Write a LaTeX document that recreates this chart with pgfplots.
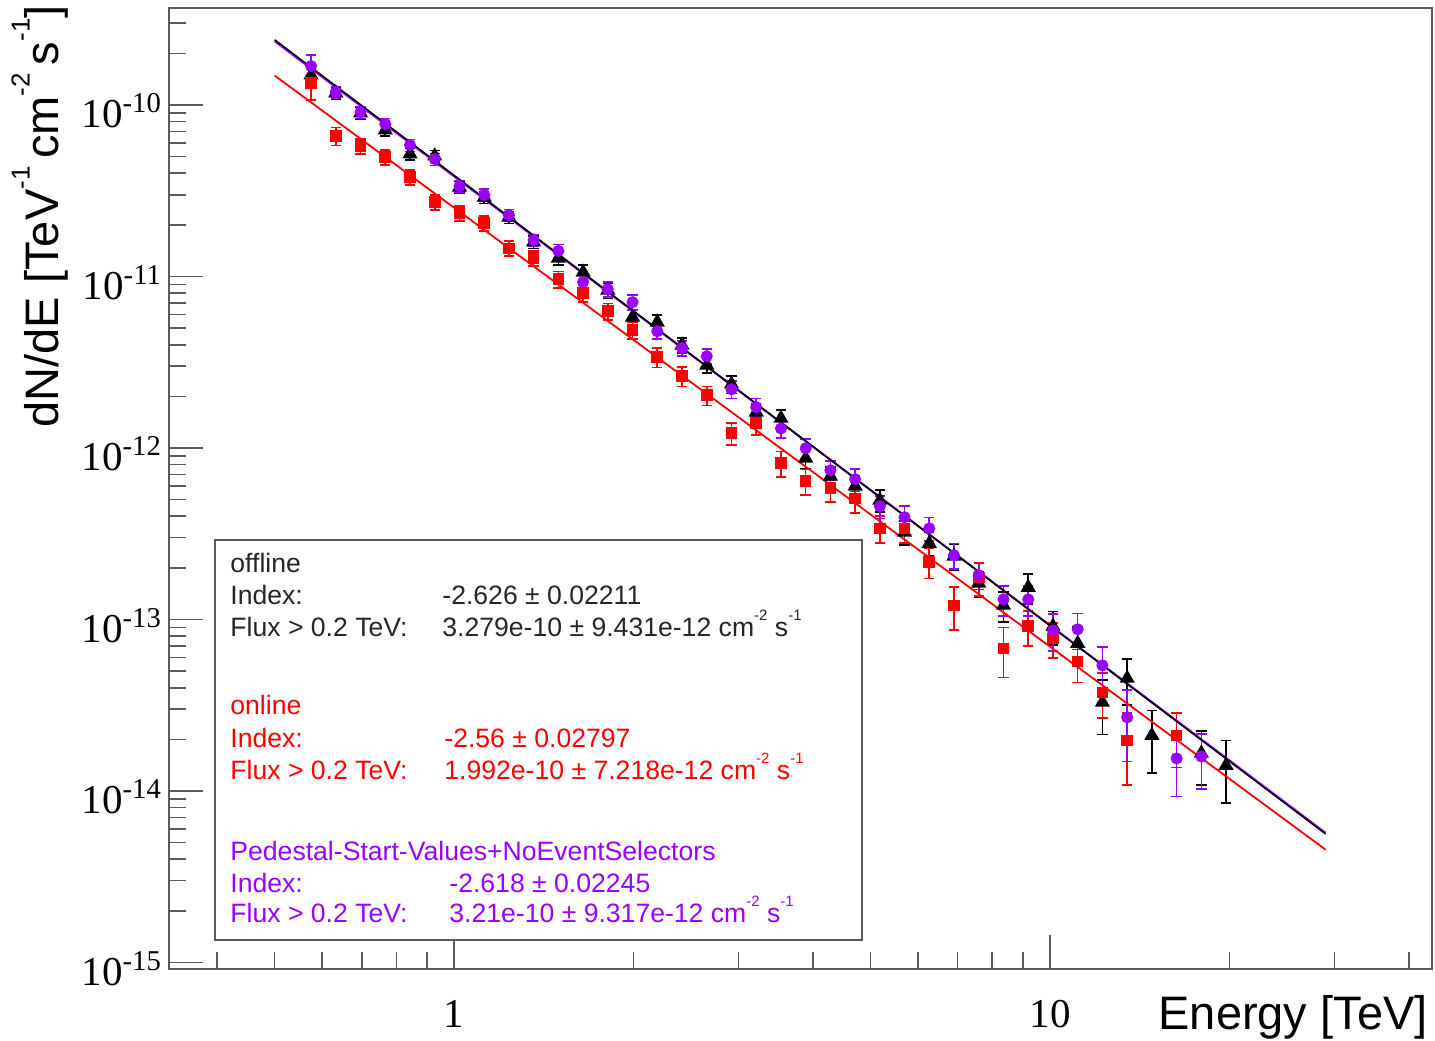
\documentclass[border=0pt]{standalone}
\usepackage{fontspec}
\setmainfont{Liberation Sans}
\newfontfamily\tickfont{Liberation Serif}
\usepackage{pgfplots}
\usepackage{pgfplotstable}
\pgfplotsset{compat=1.18}

\definecolor{offcol}{RGB}{0,0,0}
\definecolor{oncol}{RGB}{255,0,0}
\definecolor{pedcol}{RGB}{153,0,255}
\definecolor{framecol}{RGB}{90,90,90}

% small raised exponents for units
\newcommand\unitexp[2]{\raisebox{#2}{\fontsize{#1}{#1}\selectfont\kern0.5pt}}
\newcommand\titlesup[1]{\raisebox{0.62em}{\fontsize{13}{13}\selectfont #1}}
\newcommand\boxsup[1]{\raisebox{0.62em}{\fontsize{7.5}{7.5}\selectfont #1}}

% differential flux points: energy [TeV], dN/dE, error
\pgfplotstableread{
E F err
0.5755 1.496e-10 2.24e-11
0.6332 1.175e-10 9.4e-12
0.6967 8.98e-11 7.2e-12
0.7667 7.15e-11 5.7e-12
0.8436 5.18e-11 4.1e-12
0.9281 5.04e-11 4.0e-12
1.0212 3.32e-11 2.7e-12
1.1237 2.90e-11 2.3e-12
1.2359 2.22e-11 1.8e-12
1.3598 1.59e-11 1.3e-12
1.4962 1.28e-11 1.15e-12
1.6464 1.06e-11 1.06e-12
1.8113 8.33e-12 8.3e-13
1.9932 5.80e-12 5.8e-13
2.1928 5.42e-12 5.4e-13
2.4127 3.98e-12 4.0e-13
2.6546 3.04e-12 3.0e-13
2.9209 2.36e-12 2.8e-13
3.2137 1.62e-12 1.9e-13
3.5360 1.49e-12 1.8e-13
3.8905 8.72e-13 1.13e-13
4.2806 6.85e-13 8.9e-14
4.7098 5.99e-13 9.0e-14
5.1819 4.96e-13 7.4e-14
5.7003 3.23e-13 5.2e-14
6.2720 2.78e-13 4.4e-14
6.9007 2.34e-13 4.0e-14
7.5926 1.63e-13 2.8e-14
8.3542 1.21e-13 2.4e-14
9.1923 1.54e-13 3.1e-14
10.114 9.13e-14 2.0e-14
11.128 7.26e-14 1.8e-14
12.243 3.29e-14 1.15e-14
13.472 4.54e-14 1.36e-14
14.823 2.11e-14 8.4e-15
17.944 1.66e-14 5.8e-15
19.744 1.41e-14 5.6e-15
}\offline

\pgfplotstableread{
E F err
0.5755 1.344e-10 2.7e-11
0.6332 6.60e-11 7.9e-12
0.6967 5.76e-11 5.8e-12
0.7667 4.97e-11 5.0e-12
0.8436 3.80e-11 3.8e-12
0.9281 2.72e-11 2.7e-12
1.0212 2.34e-11 2.3e-12
1.1237 2.05e-11 2.05e-12
1.2359 1.46e-11 1.46e-12
1.3598 1.28e-11 1.28e-12
1.4962 9.66e-12 1.06e-12
1.6464 8.00e-12 8.8e-13
1.8113 6.28e-12 6.9e-13
1.9932 4.87e-12 5.4e-13
2.1928 3.39e-12 4.4e-13
2.4127 2.62e-12 3.4e-13
2.6546 2.03e-12 2.6e-13
2.9209 1.22e-12 1.8e-13
3.2137 1.40e-12 2.1e-13
3.5360 8.15e-13 1.39e-13
3.8905 6.40e-13 1.09e-13
4.2806 5.83e-13 9.9e-14
4.7098 5.09e-13 9.2e-14
5.1819 3.40e-13 6.1e-14
5.7003 3.40e-13 6.1e-14
6.2720 2.16e-13 4.3e-14
6.9007 1.21e-13 3.4e-14
7.5926 1.76e-13 3.9e-14
8.3542 6.79e-14 2.2e-14
9.1923 9.13e-14 2.1e-14
10.114 7.77e-14 1.8e-14
11.128 5.70e-14 1.4e-14
12.243 3.76e-14 1.1e-14
13.472 1.97e-14 8.9e-15
16.310 2.11e-14 7.4e-15
}\online

\pgfplotstableread{
E F err
0.5755 1.689e-10 2.70e-11
0.6332 1.191e-10 9.5e-12
0.6967 9.10e-11 7.3e-12
0.7667 7.75e-11 6.2e-12
0.8436 5.84e-11 4.7e-12
0.9281 4.84e-11 3.9e-12
1.0212 3.37e-11 2.7e-12
1.1237 2.99e-11 2.4e-12
1.2359 2.28e-11 1.8e-12
1.3598 1.63e-11 1.3e-12
1.4962 1.41e-11 1.27e-12
1.6464 9.28e-12 9.3e-13
1.8113 8.44e-12 8.4e-13
1.9932 7.09e-12 7.1e-13
2.1928 4.80e-12 4.8e-13
2.4127 3.82e-12 3.8e-13
2.6546 3.43e-12 3.4e-13
2.9209 2.20e-12 2.6e-13
3.2137 1.73e-12 2.1e-13
3.5360 1.30e-12 1.56e-13
3.8905 9.97e-13 1.30e-13
4.2806 7.42e-13 9.6e-14
4.7098 6.58e-13 9.9e-14
5.1819 4.57e-13 6.9e-14
5.7003 3.95e-13 6.3e-14
6.2720 3.40e-13 5.4e-14
6.9007 2.37e-13 4.0e-14
7.5926 1.81e-13 3.1e-14
8.3542 1.31e-13 2.6e-14
9.1923 1.31e-13 2.6e-14
10.114 8.65e-14 2.1e-14
11.128 8.77e-14 2.1e-14
12.243 5.40e-14 1.5e-14
13.472 2.69e-14 1.2e-14
16.310 1.55e-14 6.2e-15
17.944 1.59e-14 5.6e-15
}\pedestal

\pgfplotsset{
  fluxpts/.style={
    only marks, line width=0.8pt,
    error bars/y dir=both, error bars/y explicit,
    error bars/error bar style={line width=0.8pt},
    error bars/error mark options={rotate=90, mark size=2.6pt, line width=0.8pt}
  }
}

\begin{document}
\begin{tikzpicture}
\begin{axis}[
  xmode=log, ymode=log,
  scale only axis, width=631.5pt, height=480.5pt,
  xmin=0.3324, xmax=43.75, ymin=9.16e-16, ymax=3.68e-10,
  axis line style={framecol, line width=1.1pt},
  xtick={1,10}, xticklabels={1,10},
  minor xtick={0.4,0.5,0.6,0.7,0.8,0.9,2,3,4,5,6,7,8,9,20,30,40},
  ytick={1e-15,1e-14,1e-13,1e-12,1e-11,1e-10},
  yticklabels={10\textsuperscript{-15},10\textsuperscript{-14},10\textsuperscript{-13},10\textsuperscript{-12},10\textsuperscript{-11},10\textsuperscript{-10}},
  minor ytick={2e-15,3e-15,4e-15,5e-15,6e-15,7e-15,8e-15,9e-15,
               2e-14,3e-14,4e-14,5e-14,6e-14,7e-14,8e-14,9e-14,
               2e-13,3e-13,4e-13,5e-13,6e-13,7e-13,8e-13,9e-13,
               2e-12,3e-12,4e-12,5e-12,6e-12,7e-12,8e-12,9e-12,
               2e-11,3e-11,4e-11,5e-11,6e-11,7e-11,8e-11,9e-11,
               2e-10,3e-10},
  xtick pos=bottom, ytick pos=left, tick align=inside,
  major tick length=17pt, minor tick length=8.5pt,
  tick style={framecol, line width=0.8pt},
  ticklabel style={font=\tickfont\fontsize{20.5}{24}\selectfont},
  xticklabel style={yshift=-12pt},
  yticklabel style={yshift=-3pt},
]
\coordinate (fsw) at (rel axis cs:0,0);
\coordinate (fnw) at (rel axis cs:0,1);
\coordinate (fse) at (rel axis cs:1,0);
\coordinate (fne) at (rel axis cs:1,1);

\addplot[fluxpts, color=offcol, mark=triangle*, mark size=3.6pt]
  table[x=E, y=F, y error=err] {\offline};
\addplot[fluxpts, color=oncol, mark=square*, mark size=2.5pt]
  table[x=E, y=F, y error=err] {\online};
\addplot[fluxpts, color=pedcol, mark=*, mark size=2.6pt]
  table[x=E, y=F, y error=err] {\pedestal};

% power-law fits, straight lines on log-log axes
\addplot[pedcol, line width=1pt] coordinates {(0.5,2.357e-10) (29,5.70e-15)};
\addplot[offcol, line width=0.8pt] coordinates {(0.5,2.401e-10) (29,5.62e-15)};
\addplot[oncol, line width=0.9pt] coordinates {(0.5,1.486e-10) (29,4.55e-15)};
\end{axis}

% axis titles
\node[rotate=90, anchor=east, inner sep=0pt, font=\fontsize{23.5}{28}\selectfont]
  at ([shift={(-64.5pt,1.5pt)}]fnw)
  {dN/dE [TeV\titlesup{-1}\,cm\titlesup{-2}\,s\titlesup{-1}]};
\node[anchor=base east, inner sep=0pt, font=\fontsize{23.5}{28}\selectfont]
  at ([shift={(-2pt,-30.5pt)}]fse) {Energy [TeV]};

% fit results box
\draw[framecol, line width=1pt, fill=white]
  ([shift={(23pt,14.5pt)}]fsw) rectangle ([shift={(346.5pt,214.5pt)}]fsw);
\begin{scope}[every node/.style={anchor=base west, inner sep=0pt, font=\fontsize{13.3}{16}\selectfont}]
\node[text=black!85] at ([shift={(30.5pt,198pt)}]fsw) {offline};
\node[text=black!85] at ([shift={(30.5pt,182pt)}]fsw) {Index:};
\node[text=black!85] at ([shift={(136.5pt,182pt)}]fsw) {-2.626 ± 0.02211};
\node[text=black!85] at ([shift={(30.5pt,166pt)}]fsw) {Flux > 0.2 TeV:};
\node[text=black!85] at ([shift={(136.5pt,166pt)}]fsw) {3.279e-10 ± 9.431e-12 cm\boxsup{-2} s\boxsup{-1}};

\node[text=oncol] at ([shift={(30.5pt,127pt)}]fsw) {online};
\node[text=oncol] at ([shift={(30.5pt,110.5pt)}]fsw) {Index:};
\node[text=oncol] at ([shift={(137.5pt,110.5pt)}]fsw) {-2.56 ± 0.02797};
\node[text=oncol] at ([shift={(30.5pt,94.5pt)}]fsw) {Flux > 0.2 TeV:};
\node[text=oncol] at ([shift={(137.5pt,94.5pt)}]fsw) {1.992e-10 ± 7.218e-12 cm\boxsup{-2} s\boxsup{-1}};

\node[text=pedcol] at ([shift={(30.5pt,54pt)}]fsw) {Pedestal-Start-Values+NoEventSelectors};
\node[text=pedcol] at ([shift={(30.5pt,38pt)}]fsw) {Index:};
\node[text=pedcol] at ([shift={(140pt,38pt)}]fsw) {-2.618 ± 0.02245};
\node[text=pedcol] at ([shift={(30.5pt,23pt)}]fsw) {Flux > 0.2 TeV:};
\node[text=pedcol] at ([shift={(140pt,23pt)}]fsw) {3.21e-10 ± 9.317e-12 cm\boxsup{-2} s\boxsup{-1}};
\end{scope}

\pgfresetboundingbox
\path[use as bounding box] ([shift={(-84.5pt,-36pt)}]fsw) rectangle ([shift={(1.5pt,4pt)}]fne);
\end{tikzpicture}
\end{document}
